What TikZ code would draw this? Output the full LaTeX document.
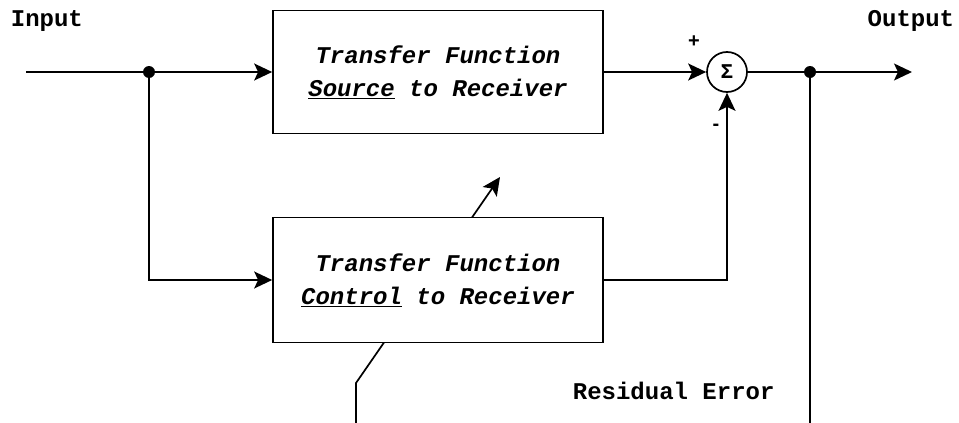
\documentclass[tikz,border=0pt]{standalone}
\usepackage{fontspec}
\setmainfont{Liberation Mono}
\newfontfamily\signfont{Liberation Sans}
\usetikzlibrary{arrows.meta}
\begin{document}
\begin{tikzpicture}[x=1pt,y=-1pt, line width=1.7pt,
  blk/.style={draw, minimum width=330pt, inner sep=0pt, align=center,
    font=\fontsize{24}{33}\selectfont\bfseries\itshape},
  lbl/.style={font=\fontsize{24}{28}\selectfont\bfseries, inner sep=0pt},
  sgn/.style={font=\signfont\fontsize{20}{22}\selectfont\bfseries, inner sep=0pt},
  arr/.style={-{Stealth[length=18pt,width=17pt,inset=4pt]}},
  jdot/.style={circle, fill, inner sep=0pt, minimum size=12pt}]
\useasboundingbox (0,0) rectangle (959,423);
% blocks
\node[blk, minimum height=123pt] (b1) at (438,72) {Transfer Function\\\underline{Source} to Receiver};
\node[blk, minimum height=125pt] (b2) at (438,280) {Transfer Function\\\underline{Control} to Receiver};
\node[draw, circle, minimum size=40pt, inner sep=0pt, font=\fontsize{21}{22}\selectfont\bfseries] (sum) at (727,72) {Σ};
% labels
\node[lbl, anchor=base west] (lin) at (10,27) {Input};
\node[lbl, anchor=base east] (lout) at (955,27) {Output};
\node[lbl, anchor=base west] (lres) at (572,399) {Residual Error};
\node[sgn] (plus) at (694,42) {+};
\node[sgn] (minus) at (716,127) {-};
% junctions and ends
\coordinate (start) at (26,72);
\node[jdot] (j1) at (149,72) {};
\node[jdot] (j2) at (810,72) {};
\coordinate (oend) at (912,72);
\coordinate (rend) at (810,423);
\coordinate (d1) at (472,217.5);
\coordinate (d2) at (500,177);
\coordinate (e1) at (384,342.5);
\coordinate (e2) at (356,383);
\coordinate (e3) at (356,423);
% connectors
\draw[arr] (start) -- (b1.west);
\draw[arr] (j1.center) |- (b2.west);
\draw[arr] (b1.east) -- (sum.west);
\draw[arr] (b2.east) -| (sum.south);
\draw (sum.east) -- (j2.center);
\draw[arr] (j2.center) -- (oend);
\draw (j2.center) -- (rend);
\draw[arr] (d1) -- (d2);
\draw (e1) -- (e2) -- (e3);
\end{tikzpicture}
\end{document}
